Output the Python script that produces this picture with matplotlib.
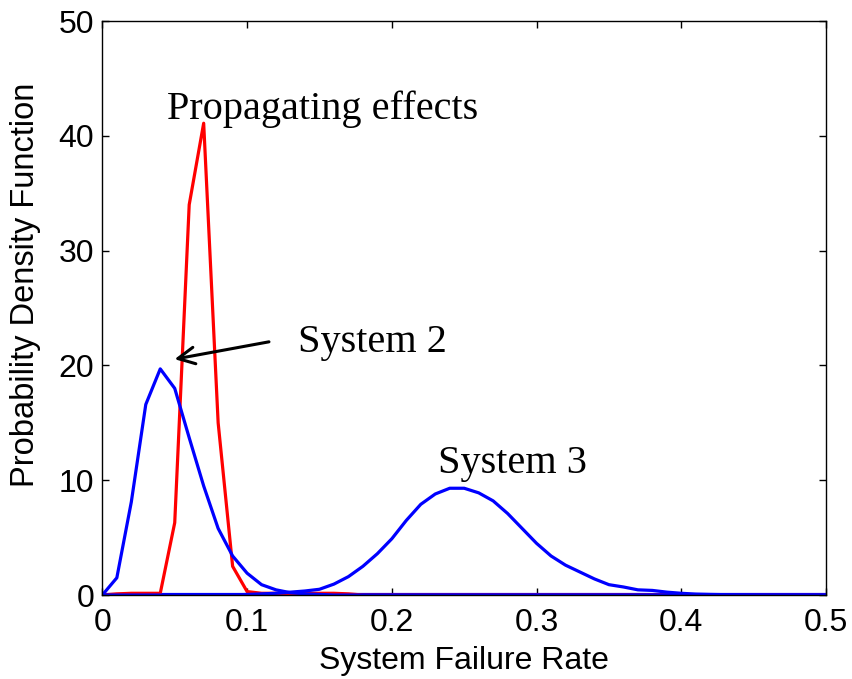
import matplotlib
matplotlib.use("Agg")
import matplotlib.pyplot as plt

# failure rate grid (0.01 steps)
rate = [i / 100 for i in range(51)]

# System 2 pdf (left blue peak)
system2 = [0.0, 1.5, 8.1, 16.6, 19.7, 18.0, 13.7, 9.5, 5.8, 3.4,
           1.9, 0.9, 0.45, 0.2, 0.1, 0.05] + [0.0] * 35

# System 3 pdf (right blue hump)
system3 = [0.0] * 10 + [0.05, 0.1, 0.15, 0.25, 0.35, 0.5, 0.95, 1.6, 2.5, 3.6,
                        4.9, 6.5, 7.9, 8.8, 9.3, 9.3, 8.9, 8.2, 7.1, 5.8,
                        4.5, 3.4, 2.6, 2.0, 1.4, 0.9, 0.7, 0.45, 0.4, 0.25,
                        0.15, 0.08, 0.05, 0.03, 0.02, 0.01, 0.0, 0.0, 0.0, 0.0, 0.0]

# flat blue curve along zero
system1 = [0.1] * 51

# propagating effects (red spike)
propagating = [0.0, 0.1, 0.15, 0.15, 0.15, 6.3, 34.0, 41.1, 15.0, 2.5,
               0.3, 0.15, 0.15, 0.15, 0.15, 0.15, 0.15, 0.1] + [0.0] * 33

fig = plt.figure(figsize=(8.53, 6.79), dpi=100)
ax = fig.add_axes([0.12, 0.1237, 0.8484, 0.8453])

ax.plot(rate, system1, color=(0, 0, 1), lw=2.3)
ax.plot(rate, propagating, color=(1, 0, 0), lw=2.3)
ax.plot(rate, system2, color=(0, 0, 1), lw=2.3)
ax.plot(rate, system3, color=(0, 0, 1), lw=2.3)

ax.set_xlim(0, 0.5)
ax.set_ylim(0, 50)
ax.set_xticks([0, 0.1, 0.2, 0.3, 0.4, 0.5])
ax.set_xticklabels(['0', '0.1', '0.2', '0.3', '0.4', '0.5'])
ax.set_yticks([0, 10, 20, 30, 40, 50])
ax.tick_params(direction='in', length=5, width=1, top=True, right=True,
               labelsize=23)
ax.tick_params(axis='x', pad=9)
ax.tick_params(axis='y', pad=6)
for lab in ax.get_xticklabels() + ax.get_yticklabels():
    lab.set_family('Liberation Sans')
for s in ax.spines.values():
    s.set_linewidth(1.0)

ax.set_xlabel('System Failure Rate', fontsize=23, family='Liberation Sans', labelpad=6)
ax.set_ylabel('Probability Density Function', fontsize=23.5, family='Liberation Sans')
ax.yaxis.set_label_coords(-0.085, 0.54)

serif = 'Liberation Serif'
ax.text(0.0447, 41.5, 'Propagating effects', fontsize=29, family=serif)
ax.text(0.135, 21.2, 'System 2', fontsize=29, family=serif)
ax.text(0.232, 10.65, 'System 3', fontsize=29, family=serif)
ax.annotate('', xy=(0.048, 20.5), xytext=(0.117, 22.1),
            arrowprops=dict(arrowstyle='->', color='black', lw=2.2,
                            mutation_scale=30))

fig.savefig('out.png', dpi=100)
